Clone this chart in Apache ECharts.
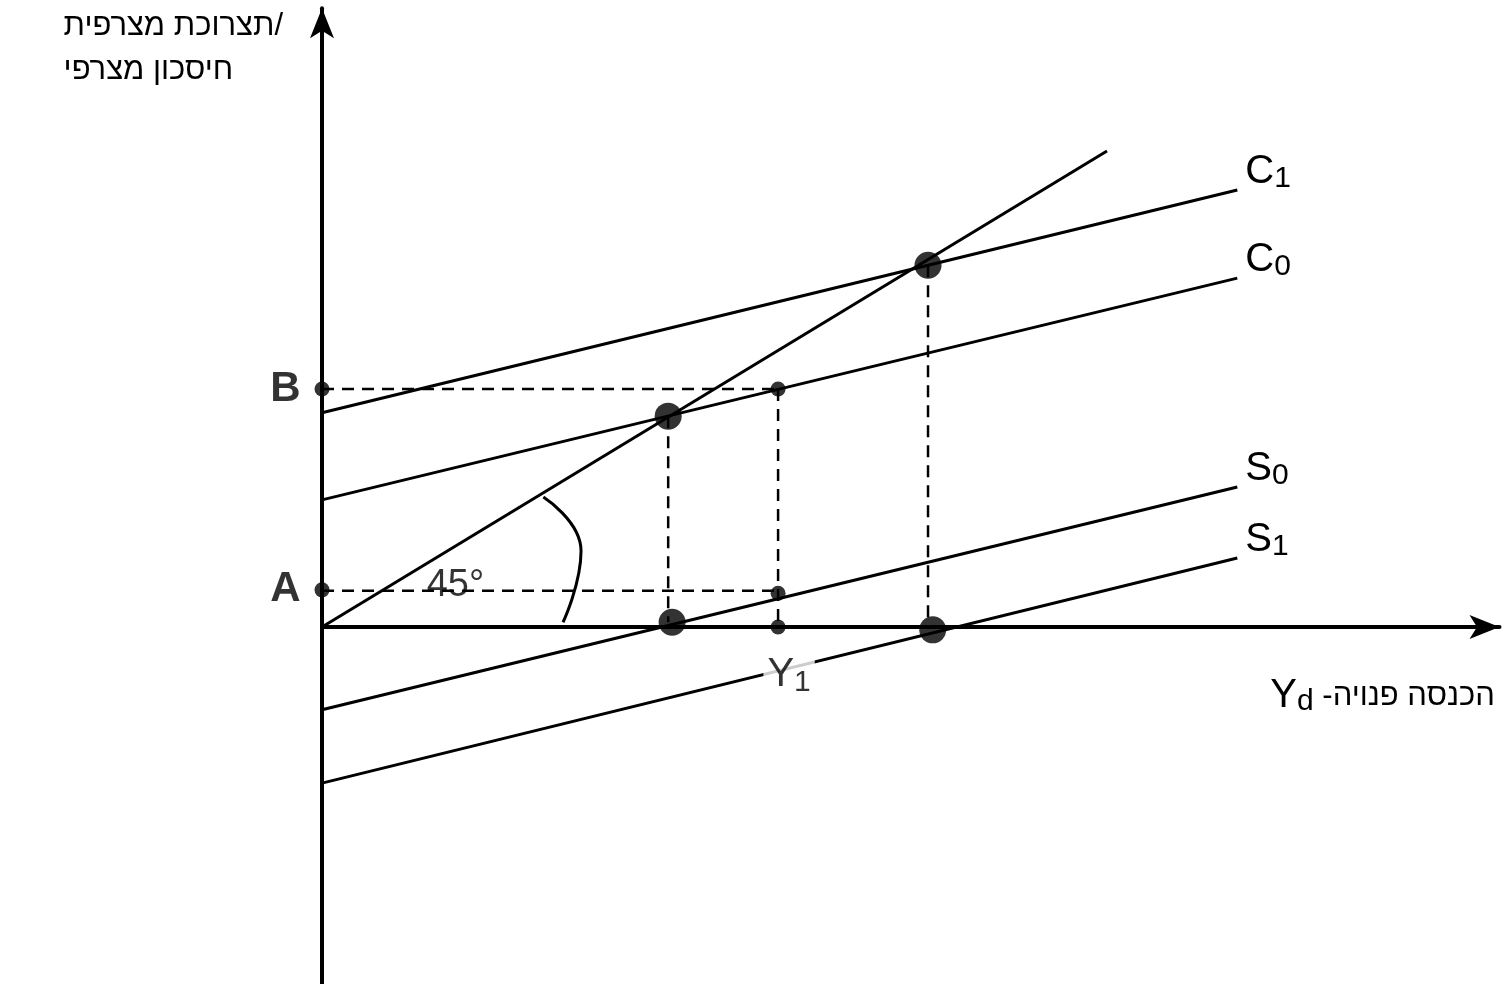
<!DOCTYPE html>
<html>
<head>
<meta charset="utf-8">
<script src="https://cdn.jsdelivr.net/npm/echarts@6/dist/echarts.min.js"></script>
<style>html,body{margin:0;background:#fff}#chart{width:1509px;height:984px}</style>
</head>
<body>
<div id="chart"></div>
<script>
// 線段端點 (x, y)
var line45 = [[0, 0], [10, 10]];
var lineC1 = [[0, 4.5], [11.66, 9.18]];
var lineC0 = [[0, 2.67], [11.66, 7.33]];
var lineS0 = [[0, -1.74], [11.66, 2.94]];
var lineS1 = [[0, -3.28], [11.66, 1.45]];
var arc45 = [[2.82, 2.73], [3.3, 1.6], [3.07, 0.1]];
var dashB = [[0, 5.0], [5.81, 5.0]];
var dashA = [[0, 0.76], [5.81, 0.76]];
var dashV0 = [[4.41, 4.43], [4.41, 0.1]];
var dashV1 = [[5.81, 5.0], [5.81, 0]];
var dashV2 = [[7.72, 7.6], [7.72, 0]];
var bigDots = [[7.72, 7.6], [4.41, 4.43], [4.46, 0.1], [7.78, -0.06]];
var smallDots = [[5.81, 5.0], [5.81, 0.71], [5.81, 0]];
var axisDots = [[0, 5.0, 'B'], [0, 0.78, 'A']];

var font = 'Liberation Sans, Arial, sans-serif';

function solid(data) {
    return { type: 'line', data: data, symbol: 'none', lineStyle: { color: '#000', width: 3 }, z: 3 };
}
function dashed(data) {
    return { type: 'line', data: data, symbol: 'none', lineStyle: { color: '#000', width: 2.5, type: [12, 8] }, z: 2 };
}
function endLabel(data, main, sub) {
    var s = solid(data);
    s.endLabel = {
        show: true, distance: 8, offset: [0, -18],
        formatter: '{a|' + main + '}{b|' + sub + '}',
        rich: { a: { fontSize: 40, fontFamily: font, color: '#000' }, b: { fontSize: 30, fontFamily: font, color: '#000', padding: [14, 0, 0, 0] } }
    };
    return s;
}

var chart = echarts.init(document.getElementById('chart'));
chart.setOption({
    animation: false,
    grid: { left: 322, right: 9.5, top: 8.2, bottom: 0 },
    xAxis: {
        type: 'value', min: 0, max: 15,
        axisLine: { onZero: true, symbol: ['none', 'arrow'], symbolSize: [18, 30], lineStyle: { color: '#000', width: 4 } },
        axisTick: { show: false }, axisLabel: { show: false }, splitLine: { show: false }
    },
    yAxis: {
        type: 'value', min: -7.5, max: 13,
        axisLine: { onZero: true, symbol: ['none', 'arrow'], symbolSize: [18, 30], lineStyle: { color: '#000', width: 4 } },
        axisTick: { show: false }, axisLabel: { show: false }, splitLine: { show: false }
    },
    series: [
        solid(line45),
        endLabel(lineC1, 'C', '1'),
        endLabel(lineC0, 'C', '0'),
        endLabel(lineS0, 'S', '0'),
        endLabel(lineS1, 'S', '1'),
        { type: 'line', data: arc45, smooth: true, symbol: 'none', lineStyle: { color: '#000', width: 3 } },
        dashed(dashB), dashed(dashA), dashed(dashV0), dashed(dashV1), dashed(dashV2),
        { type: 'scatter', data: bigDots, symbolSize: 27, itemStyle: { color: '#000' }, z: 5 },
        { type: 'scatter', data: smallDots, symbolSize: 15, itemStyle: { color: '#000' }, z: 5 },
        {
            type: 'scatter', data: axisDots, symbolSize: 15, itemStyle: { color: '#000' }, z: 5,
            label: { show: true, position: 'left', distance: 14, formatter: function (p) { return p.value[2]; },
                fontSize: 42, fontWeight: 'bold', fontFamily: font, color: '#000' }
        },
        {
            type: 'scatter', data: [[1.7, 0.88]], symbolSize: 0, z: 6,
            label: { show: true, position: 'inside', formatter: '45°', fontSize: 38, fontFamily: font, color: '#000' }
        },
        {
            type: 'scatter', data: [[5.95, -1.0]], symbolSize: 0, z: 6,
            label: { show: true, position: 'inside', formatter: '{a|Y}{b|1}', backgroundColor: '#fff', padding: [0, 4],
                rich: { a: { fontSize: 40, fontFamily: font, color: '#000' }, b: { fontSize: 30, fontFamily: font, color: '#000', padding: [16, 0, 0, 0] } } }
        }
    ],
    graphic: [
        { type: 'text', right: 1226, top: 4, style: { text: 'תצרוכת מצרפית/\nחיסכון מצרפי', align: 'right', fontSize: 31, lineHeight: 44, fontFamily: font, fill: '#000' } },
        { type: 'text', right: 14, top: 676, style: { text: '{a|Y}{b|d} -הכנסה פנויה', fontSize: 31, fontFamily: font, fill: '#000',
            rich: { a: { fontSize: 40, fontFamily: font }, b: { fontSize: 30, fontFamily: font, padding: [12, 0, 0, 0] } } } }
    ]
});
</script>
</body>
</html>
